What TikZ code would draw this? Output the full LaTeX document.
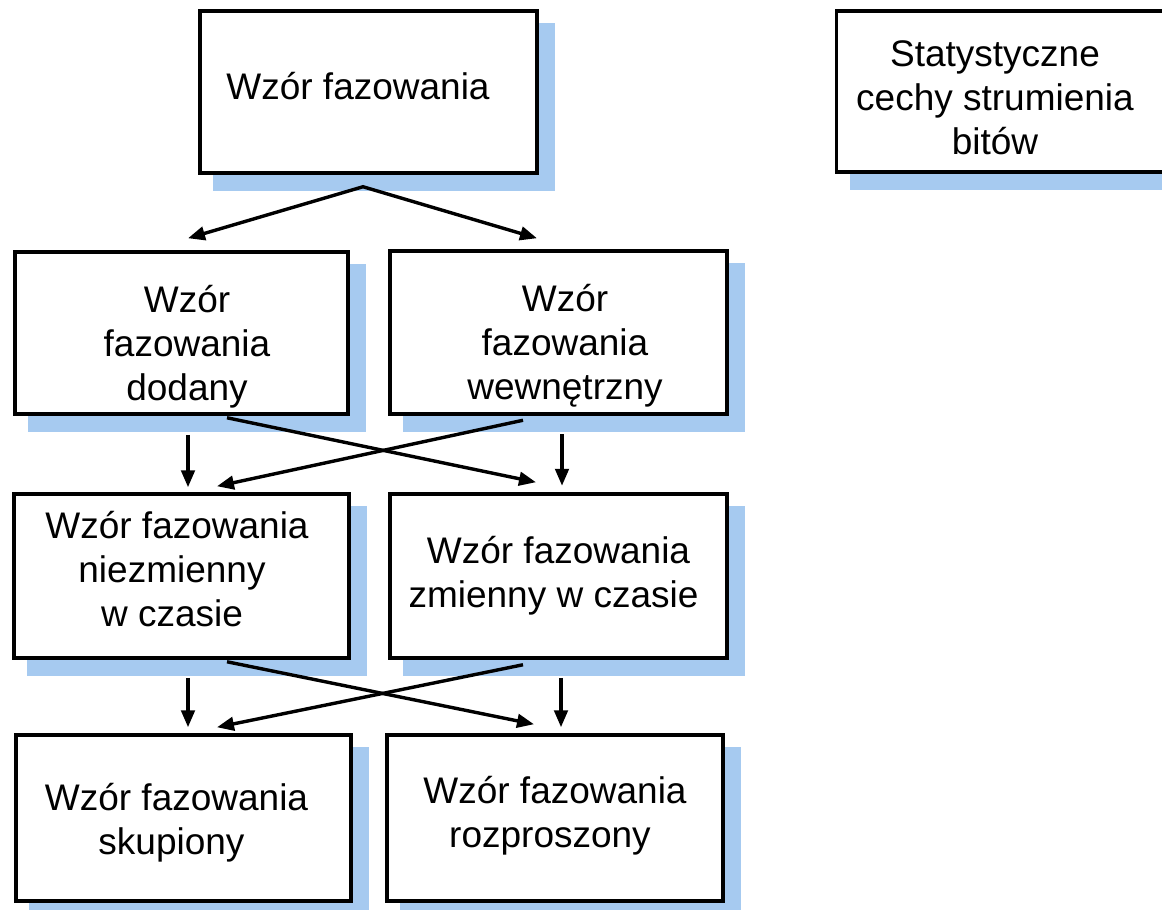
\documentclass[tikz,border=0pt]{standalone}
\usepackage{fontspec}
\setmainfont{Liberation Sans}
\usetikzlibrary{arrows.meta,calc,backgrounds}
\definecolor{shadowblue}{HTML}{A6CAF0}
% centred block of lines whose reference point is the first baseline
\newcommand\stacklines[1]{\begin{tabular}[t]{@{}c@{}}#1\end{tabular}}
\newcommand\trail{\hspace*{10pt}}

\begin{document}
\begin{tikzpicture}[x=1pt,y=-1pt,
  panel/.style={draw=black, line width=3.6pt, fill=white, inner sep=0pt, outer sep=0pt},
  caption/.style={anchor=base, inner sep=0pt, outer sep=0pt, font=\fontsize{37}{44}\selectfont},
  tip/.tip={Triangle[length=17pt,width=13.5pt]},
  link/.style={line width=3.4pt, -tip},
  ]
\useasboundingbox (0,0) rectangle (1162,910);
\clip (0,0) rectangle (1162,910);

% boxes
\node[panel, minimum width=337.5pt, minimum height=162.5pt] (A) at (368.5,92) {};
\node[panel, minimum width=340pt, minimum height=161.5pt] (S) at (1006.5,91.5) {};
\node[panel, minimum width=333.5pt, minimum height=162.5pt] (B) at (181.5,333) {};
\node[panel, minimum width=337.5pt, minimum height=163.5pt] (C) at (558.5,332.5) {};
\node[panel, minimum width=335.5pt, minimum height=164.5pt] (D) at (181.5,576) {};
\node[panel, minimum width=337.5pt, minimum height=164.5pt] (E) at (558.5,576) {};
\node[panel, minimum width=335.5pt, minimum height=166.5pt] (F) at (183.5,818) {};
\node[panel, minimum width=336.5pt, minimum height=166.5pt] (G) at (555,818) {};

% drop shadows behind the boxes
\begin{scope}[on background layer]
  \foreach \b in {A,S,B,C,D,E,F,G}
    \fill[shadowblue] ($(\b.north west)+(13.5,12.5)$) rectangle ($(\b.south east)+(18,18)$);
\end{scope}

% box texts
\node[caption] (tA) at (358,99) {Wzór fazowania};
\node[caption] (tS) at (995,66) {\stacklines{Statystyczne\\cechy strumienia\\bitów}};
\node[caption] (tB) at (187,312) {\stacklines{Wzór\\fazowania\\dodany}};
\node[caption] (tC) at (565,311) {\stacklines{Wzór\\fazowania\\wewnętrzny}};
\node[caption] (tD) at (177,538) {\stacklines{Wzór fazowania\\niezmienny\trail\\w czasie\trail}};
\node[caption] (tE) at (558.5,563) {\stacklines{Wzór fazowania\\zmienny w czasie\trail}};
\node[caption] (tF) at (176.5,810) {\stacklines{Wzór fazowania\\skupiony\trail}};
\node[caption] (tG) at (555,803) {\stacklines{Wzór fazowania\\rozproszony\trail}};

% split below the top box
\coordinate (split) at ($(A.south)+(-5.5,13.5)$);
\draw[line width=3.4pt, line join=miter, tip-tip]
  ($(B.north)+(6.5,-13.5)$) -- (split) -- ($(C.north)+(-21.5,-12.5)$);

% second row to third row
\draw[link] ($(B.south)+(6.5,20.5)$) -- ($(D.north)+(6.5,-6.5)$);
\draw[link] ($(C.south)+(3.5,20)$) -- ($(E.north)+(3.5,-8)$);
\draw[link] ($(B.south)+(45.5,3.5)$) -- ($(E.north)+(-22.5,-11.5)$);
\draw[link] ($(C.south)+(-35.5,6)$) -- ($(D.north)+(35.5,-7.5)$);

% third row to fourth row
\draw[link] ($(D.south)+(6.5,19.5)$) -- ($(F.north)+(4.5,-7.5)$);
\draw[link] ($(E.south)+(2.5,19.5)$) -- ($(G.north)+(6,-7.5)$);
\draw[link] ($(D.south)+(45.5,3.5)$) -- ($(G.north)+(-21,-10.5)$);
\draw[link] ($(E.south)+(-35.5,6.5)$) -- ($(F.north)+(33.5,-7.5)$);
\end{tikzpicture}
\end{document}
